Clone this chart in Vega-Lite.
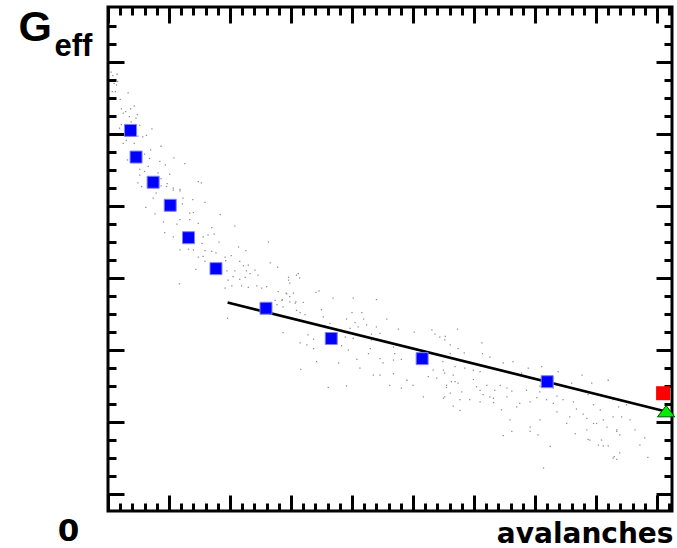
{
  "$schema": "https://vega.github.io/schema/vega-lite/v6.json",
  "width": 564,
  "height": 504,
  "autosize": {"type": "none"},
  "padding": {"left": 108, "top": 7, "right": 5, "bottom": 37},
  "background": "white",
  "config": {"view": {"stroke": "black", "strokeWidth": 3}},
  "datasets": {
    "cloud": [
      {"x":0.05,"y":6.86},{"x":0.15,"y":6.83},{"x":0.08,"y":6.81},{"x":0.16,"y":6.73},{"x":0.10,"y":6.70},{"x":0.14,"y":6.68},{"x":0.07,"y":6.59},{"x":0.12,"y":6.59},{"x":0.33,"y":6.57},{"x":0.20,"y":6.48},{"x":0.43,"y":6.39},{"x":0.22,"y":6.35},{"x":0.37,"y":6.35},{"x":0.29,"y":6.31},{"x":0.25,"y":6.29},{"x":0.48,"y":6.27},{"x":0.35,"y":6.24},{"x":0.46,"y":6.22},{"x":0.38,"y":6.17},{"x":0.22,"y":6.13},{"x":0.19,"y":6.08},{"x":0.52,"y":6.12},{"x":0.72,"y":6.07},{"x":0.63,"y":5.98},{"x":0.57,"y":5.96},{"x":0.49,"y":5.97},{"x":0.30,"y":5.91},{"x":0.43,"y":5.87},{"x":0.25,"y":5.87},{"x":0.87,"y":5.83},{"x":0.70,"y":5.78},{"x":0.60,"y":5.72},{"x":0.68,"y":5.66},{"x":1.08,"y":5.67},{"x":0.32,"y":5.64},{"x":0.85,"y":5.62},{"x":0.94,"y":5.57},{"x":1.26,"y":5.59},{"x":0.66,"y":5.55},{"x":0.52,"y":5.51},{"x":0.60,"y":5.48},{"x":0.82,"y":5.46},{"x":1.01,"y":5.44},{"x":0.52,"y":5.43},{"x":0.49,"y":5.32},{"x":0.87,"y":5.38},{"x":0.97,"y":5.31},{"x":0.87,"y":5.28},{"x":1.07,"y":5.25},{"x":1.18,"y":5.23},{"x":1.48,"y":5.34},{"x":1.53,"y":5.32},{"x":0.55,"y":5.27},
      {"x":0.96,"y":5.27},{"x":1.07,"y":5.22},{"x":1.18,"y":5.21},{"x":0.79,"y":5.18},{"x":0.74,"y":5.11},{"x":0.62,"y":4.98},{"x":1.23,"y":5.11},{"x":1.39,"y":5.09},{"x":1.59,"y":5.05},{"x":1.22,"y":5.03},{"x":1.34,"y":4.90},{"x":1.40,"y":4.91},{"x":0.77,"y":4.89},{"x":1.84,"y":4.88},{"x":0.91,"y":4.78},{"x":1.18,"y":4.81},{"x":1.34,"y":4.81},{"x":1.13,"y":4.75},{"x":1.48,"y":4.76},{"x":2.08,"y":4.72},{"x":1.70,"y":4.70},{"x":0.93,"y":4.63},{"x":1.64,"y":4.60},{"x":1.74,"y":4.61},{"x":1.07,"y":4.57},{"x":1.56,"y":4.57},{"x":1.54,"y":4.48},{"x":1.82,"y":4.50},{"x":2.63,"y":4.50},{"x":1.32,"y":4.40},{"x":1.40,"y":4.39},{"x":1.59,"y":4.38},{"x":1.18,"y":4.39},{"x":1.70,"y":4.37},{"x":1.77,"y":4.35},{"x":2.14,"y":4.43},{"x":2.26,"y":4.38},{"x":1.48,"y":4.29},{"x":1.56,"y":4.30},{"x":1.92,"y":4.29},{"x":2.02,"y":4.31},{"x":1.59,"y":4.23},{"x":1.93,"y":4.24},{"x":2.16,"y":4.23},{"x":2.22,"y":4.17},{"x":2.30,"y":4.18},{"x":2.66,"y":4.21},{"x":2.78,"y":4.15},{"x":1.44,"y":4.12},{"x":1.95,"y":4.10},{"x":2.08,"y":4.10},{"x":2.27,"y":4.10},{"x":2.41,"y":4.11},{"x":2.33,"y":4.06},{"x":2.05,"y":4.02},{"x":2.16,"y":3.98},{"x":2.25,"y":4.01},{"x":2.46,"y":4.04},{"x":1.97,"y":3.97},{"x":2.96,"y":4.01},{"x":3.09,"y":4.04},{"x":2.19,"y":3.89},{"x":2.30,"y":3.87},{"x":2.44,"y":3.89},{"x":2.52,"y":3.86},{"x":2.60,"y":3.88},{"x":1.92,"y":3.86},{"x":2.03,"y":3.89},{"x":2.79,"y":3.81},{"x":2.93,"y":3.78},{"x":3.04,"y":3.79},{"x":1.17,"y":3.92},{"x":2.74,"y":3.69},{"x":2.85,"y":3.69},{"x":2.98,"y":3.74},{"x":3.07,"y":3.65},{"x":1.96,"y":3.44},{"x":2.87,"y":3.60},{"x":3.09,"y":3.55},{"x":2.77,"y":3.63},
      {"x":3.12,"y":4.06},{"x":3.14,"y":4.00},{"x":2.96,"y":3.97},{"x":2.98,"y":3.93},{"x":2.92,"y":3.79},{"x":2.86,"y":3.70},{"x":2.98,"y":3.67},{"x":3.08,"y":3.67},{"x":3.20,"y":3.66},{"x":3.46,"y":3.82},{"x":3.41,"y":3.80},{"x":3.69,"y":3.72},{"x":4.02,"y":3.72},{"x":4.40,"y":3.70},{"x":3.15,"y":3.52},{"x":3.23,"y":3.49},{"x":3.50,"y":3.56},{"x":3.53,"y":3.46},{"x":4.00,"y":3.52},{"x":4.16,"y":3.52},{"x":3.64,"y":3.37},{"x":3.91,"y":3.43},{"x":4.05,"y":3.38},{"x":4.19,"y":3.43},{"x":4.57,"y":3.43},{"x":3.97,"y":3.30},{"x":4.10,"y":3.32},{"x":4.24,"y":3.35},{"x":4.40,"y":3.32},{"x":4.76,"y":3.29},{"x":4.46,"y":3.23},{"x":4.32,"y":3.22},{"x":2.87,"y":3.24},{"x":3.28,"y":3.21},{"x":3.37,"y":3.15},{"x":3.89,"y":3.18},{"x":4.02,"y":3.16},{"x":4.32,"y":3.14},{"x":4.57,"y":3.12},{"x":5.02,"y":3.25},{"x":5.31,"y":3.28},{"x":5.36,"y":3.22},{"x":5.44,"y":3.18},{"x":5.52,"y":3.14},{"x":3.15,"y":3.10},{"x":3.26,"y":3.07},{"x":3.37,"y":3.02},{"x":3.83,"y":3.06},{"x":3.94,"y":3.00},{"x":4.30,"y":3.02},{"x":4.68,"y":3.04},{"x":4.08,"y":2.87},{"x":4.27,"y":2.95},{"x":4.46,"y":2.88},{"x":4.70,"y":2.95},{"x":4.81,"y":2.87},{"x":3.78,"y":2.82},{"x":4.51,"y":2.82},{"x":4.68,"y":2.86},{"x":3.42,"y":2.84},{"x":4.13,"y":2.75},{"x":4.35,"y":2.65},{"x":4.46,"y":2.65},{"x":4.90,"y":2.58},{"x":4.68,"y":2.67},{"x":5.33,"y":2.72},{"x":5.50,"y":2.72},{"x":5.25,"y":2.63},{"x":5.39,"y":2.61},{"x":5.66,"y":2.65},{"x":4.62,"y":2.51},{"x":4.81,"y":2.47},{"x":5.00,"y":2.51},{"x":3.61,"y":2.48},{"x":5.55,"y":2.51},{"x":5.69,"y":2.56},{"x":5.17,"y":2.35},{"x":5.61,"y":2.40},{"x":5.52,"y":2.35},{"x":3.16,"y":2.73},{"x":3.91,"y":2.50},
      {"x":5.73,"y":3.29},{"x":5.53,"y":3.19},{"x":5.61,"y":3.07},{"x":6.13,"y":3.10},{"x":5.74,"y":3.02},{"x":5.84,"y":2.96},{"x":6.14,"y":2.95},{"x":6.26,"y":2.90},{"x":5.69,"y":2.77},{"x":5.85,"y":2.75},{"x":5.99,"y":2.72},{"x":5.99,"y":2.59},{"x":6.10,"y":2.70},{"x":5.52,"y":2.68},{"x":5.63,"y":2.56},{"x":5.74,"y":2.54},{"x":5.55,"y":2.48},{"x":5.80,"y":2.42},{"x":6.04,"y":2.49},{"x":6.10,"y":2.44},{"x":6.21,"y":2.51},{"x":6.34,"y":2.44},{"x":6.43,"y":2.51},{"x":6.54,"y":2.47},{"x":6.62,"y":2.43},{"x":6.48,"y":2.82},{"x":6.64,"y":2.84},{"x":6.89,"y":2.75},{"x":7.11,"y":2.77},{"x":6.78,"y":2.68},{"x":6.92,"y":2.61},{"x":7.08,"y":2.50},{"x":6.86,"y":2.44},{"x":5.50,"y":2.33},{"x":5.66,"y":2.22},{"x":5.77,"y":2.16},{"x":6.15,"y":2.38},{"x":6.26,"y":2.35},{"x":6.32,"y":2.27},{"x":6.45,"y":2.17},{"x":6.59,"y":2.03},{"x":6.70,"y":2.21},{"x":6.75,"y":2.26},{"x":6.92,"y":2.28},{"x":7.03,"y":2.34},{"x":7.19,"y":2.31},{"x":7.36,"y":2.36},{"x":7.30,"y":2.26},{"x":7.46,"y":2.31},{"x":7.63,"y":2.28},{"x":7.68,"y":2.18},{"x":7.38,"y":2.70},{"x":7.60,"y":2.54},{"x":7.77,"y":2.65},{"x":7.93,"y":2.54},{"x":8.20,"y":2.58},{"x":7.96,"y":2.24},{"x":8.07,"y":2.17},{"x":7.79,"y":2.11},{"x":7.57,"y":2.07},{"x":7.36,"y":2.14},{"x":7.08,"y":2.03},{"x":6.92,"y":1.93},{"x":7.05,"y":1.82},{"x":6.92,"y":1.87},{"x":7.25,"y":1.66},{"x":7.52,"y":1.98},{"x":7.66,"y":1.84},{"x":7.85,"y":1.89},{"x":7.96,"y":1.98},{"x":8.12,"y":2.03},{"x":8.28,"y":2.07},{"x":8.18,"y":1.93},{"x":8.34,"y":1.87},{"x":8.39,"y":1.82},{"x":8.09,"y":1.75},{"x":8.20,"y":1.67},{"x":8.12,"y":1.67},{"x":7.87,"y":1.76},{"x":8.39,"y":1.57},{"x":8.28,"y":1.50},{"x":7.14,"y":1.36},{"x":6.48,"y":1.81},{"x":6.62,"y":1.87},{"x":8.09,"y":2.38},{"x":8.28,"y":2.31},{"x":8.37,"y":2.21},{"x":8.50,"y":2.24},{"x":8.42,"y":2.07},{"x":5.61,"y":2.95},{"x":5.49,"y":2.84},{"x":6.32,"y":2.33},{"x":6.54,"y":2.35},{"x":7.08,"y":2.42},{"x":7.30,"y":2.47},{"x":7.74,"y":2.44},{"x":7.87,"y":2.38},{"x":6.10,"y":2.28},{"x":5.93,"y":2.31},{"x":5.77,"y":2.31},
      {"x":8.30,"y":1.52},{"x":8.34,"y":1.48},{"x":7.90,"y":1.75},{"x":8.04,"y":1.68},{"x":7.85,"y":2.05},{"x":8.01,"y":1.98},{"x":8.34,"y":1.89},{"x":8.72,"y":1.68},{"x":8.64,"y":1.89},{"x":8.85,"y":1.51},{"x":8.56,"y":2.03},{"x":8.80,"y":1.78}
    ],
    "fit": [{"x":1.96,"y":3.66},{"x":9.13,"y":2.15}],
    "blue": [
      {"x":0.37,"y":6.05},{"x":0.46,"y":5.68},{"x":0.74,"y":5.33},{"x":1.02,"y":5.01},{"x":1.32,"y":4.56},
      {"x":1.77,"y":4.13},{"x":2.59,"y":3.58},{"x":3.66,"y":3.16},{"x":5.15,"y":2.88},{"x":7.20,"y":2.56}
    ],
    "red": [{"x":9.10,"y":2.40}],
    "green": [{"x":9.15,"y":2.15}]
  },
  "resolve": {"axis": {"x": "independent", "y": "independent"}},
  "layer": [
    {
      "data": {"name": "cloud"},
      "mark": {"type": "point", "shape": "square", "filled": true, "size": 1.6, "color": "#8c8c8c", "opacity": 1},
      "encoding": {
        "x": {"field": "x", "type": "quantitative",
          "scale": {"domain": [0, 9.246], "nice": false, "zero": false},
          "axis": {
            "orient": "bottom",
            "values": [0,0.2,0.4,0.6,0.8,1,1.2,1.4,1.6,1.8,2,2.2,2.4,2.6,2.8,3,3.2,3.4,3.6,3.8,4,4.2,4.4,4.6,4.8,5,5.2,5.4,5.6,5.8,6,6.2,6.4,6.6,6.8,7,7.2,7.4,7.6,7.8,8,8.2,8.4,8.6,8.8,9,9.2],
            "domain": false, "grid": false,
            "tickColor": "black", "tickWidth": 3,
            "tickSize": {"condition": {"test": "abs(datum.value - round(datum.value)) < 0.001", "value": -16}, "value": -8},
            "labelExpr": "datum.value == 0 ? '0' : ''",
            "labelFont": "DejaVu Sans", "labelFontWeight": "bold", "labelFontSize": 31, "labelColor": "black",
            "labelOffset": -40, "labelPadding": 52, "labelBaseline": "bottom", "labelAlign": "center",
            "labelOverlap": false, "labelFlush": false, "labelBound": false,
            "title": "avalanches",
            "titleFont": "DejaVu Sans", "titleFontWeight": "bold", "titleFontSize": 28, "titleColor": "black",
            "titleAnchor": "end", "titleAlign": "right", "titleBaseline": "alphabetic",
            "titleX": 565, "titleY": 31
          }
        },
        "y": {"field": "y", "type": "quantitative",
          "scale": {"domain": [0.764, 7.764], "nice": false, "zero": false},
          "axis": {
            "orient": "left",
            "values": [1,1.25,1.5,1.75,2,2.25,2.5,2.75,3,3.25,3.5,3.75,4,4.25,4.5,4.75,5,5.25,5.5,5.75,6,6.25,6.5,6.75,7,7.25,7.5],
            "domain": false, "grid": false, "labels": false,
            "tickColor": "black", "tickWidth": 3,
            "tickSize": {"condition": {"test": "abs(datum.value - round(datum.value)) < 0.001", "value": -16}, "value": -8},
            "title": "G",
            "titleFont": "Liberation Sans", "titleFontWeight": "bold", "titleFontSize": 43, "titleColor": "black",
            "titleAngle": 0, "titleAlign": "left", "titleBaseline": "alphabetic",
            "titleX": -90, "titleY": 33
          }
        }
      }
    },
    {
      "data": {"name": "fit"},
      "mark": {"type": "line", "color": "black", "strokeWidth": 2.6},
      "encoding": {
        "x": {"field": "x", "type": "quantitative",
          "scale": {"domain": [0, 9.246], "nice": false, "zero": false},
          "axis": {
            "orient": "top",
            "values": [0,0.2,0.4,0.6,0.8,1,1.2,1.4,1.6,1.8,2,2.2,2.4,2.6,2.8,3,3.2,3.4,3.6,3.8,4,4.2,4.4,4.6,4.8,5,5.2,5.4,5.6,5.8,6,6.2,6.4,6.6,6.8,7,7.2,7.4,7.6,7.8,8,8.2,8.4,8.6,8.8,9,9.2],
            "domain": false, "grid": false, "labels": false, "title": null,
            "tickColor": "black", "tickWidth": 3,
            "tickSize": {"condition": {"test": "abs(datum.value - round(datum.value)) < 0.001", "value": -16}, "value": -8}
          }
        },
        "y": {"field": "y", "type": "quantitative",
          "scale": {"domain": [0.764, 7.764], "nice": false, "zero": false},
          "axis": {
            "orient": "right",
            "values": [1,1.25,1.5,1.75,2,2.25,2.5,2.75,3,3.25,3.5,3.75,4,4.25,4.5,4.75,5,5.25,5.5,5.75,6,6.25,6.5,6.75,7,7.25,7.5],
            "domain": false, "grid": false, "labels": false,
            "tickColor": "black", "tickWidth": 3,
            "tickSize": {"condition": {"test": "abs(datum.value - round(datum.value)) < 0.001", "value": -16}, "value": -8},
            "title": "eff",
            "titleFont": "Liberation Sans", "titleFontWeight": "bold", "titleFontSize": 31, "titleColor": "black",
            "titleAngle": 0, "titleAlign": "left", "titleBaseline": "alphabetic",
            "titleX": -618, "titleY": 48
          }
        }
      }
    },
    {
      "data": {"name": "blue"},
      "mark": {"type": "point", "shape": "square", "filled": true, "size": 144, "fill": "#0000ff", "stroke": "#8080ff", "strokeWidth": 1, "opacity": 1},
      "encoding": {
        "x": {"field": "x", "type": "quantitative", "scale": {"domain": [0, 9.246], "nice": false, "zero": false}, "axis": null},
        "y": {"field": "y", "type": "quantitative", "scale": {"domain": [0.764, 7.764], "nice": false, "zero": false}, "axis": null}
      }
    },
    {
      "data": {"name": "red"},
      "mark": {"type": "point", "shape": "square", "filled": true, "size": 196, "fill": "#ff0000", "strokeWidth": 0, "opacity": 1},
      "encoding": {
        "x": {"field": "x", "type": "quantitative", "scale": {"domain": [0, 9.246], "nice": false, "zero": false}, "axis": null},
        "y": {"field": "y", "type": "quantitative", "scale": {"domain": [0.764, 7.764], "nice": false, "zero": false}, "axis": null}
      }
    },
    {
      "data": {"name": "green"},
      "mark": {"type": "point", "shape": "M-1,0.65L0,-0.65L1,0.65Z", "filled": true, "size": 300, "fill": "#00ee00", "stroke": "#005000", "strokeWidth": 1, "opacity": 1},
      "encoding": {
        "x": {"field": "x", "type": "quantitative", "scale": {"domain": [0, 9.246], "nice": false, "zero": false}, "axis": null},
        "y": {"field": "y", "type": "quantitative", "scale": {"domain": [0.764, 7.764], "nice": false, "zero": false}, "axis": null}
      }
    }
  ]
}
